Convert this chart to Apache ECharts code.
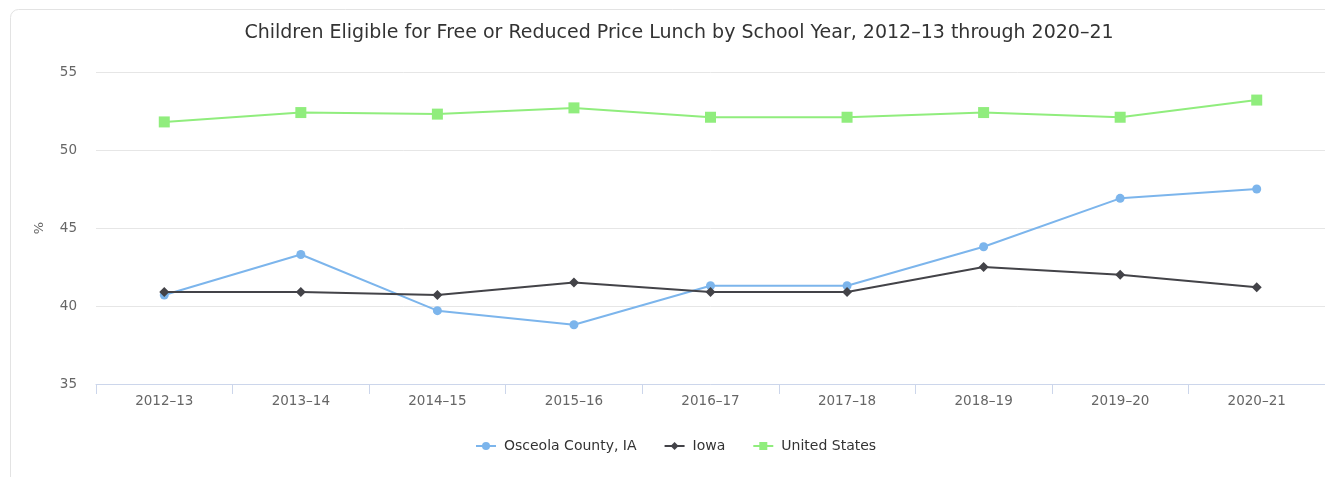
<!DOCTYPE html>
<html>
<head>
<meta charset="utf-8">
<script src="https://cdn.jsdelivr.net/npm/echarts@6/dist/echarts.min.js"></script>
<style>
  html, body { margin: 0; padding: 0; background: #ffffff; }
  #chart { width: 1325px; height: 477px; }
</style>
</head>
<body>
<div id="chart"></div>
<script>
// School years on the category axis
const schoolYears = ['2012–13', '2013–14', '2014–15', '2015–16', '2016–17', '2017–18', '2018–19', '2019–20', '2020–21'];

// Share of children eligible for free or reduced price lunch (%)
const osceolaCounty = [40.7, 43.3, 39.7, 38.8, 41.3, 41.3, 43.8, 46.9, 47.5];
const iowa = [40.9, 40.9, 40.7, 41.5, 40.9, 40.9, 42.5, 42.0, 41.2];
const unitedStates = [51.8, 52.4, 52.3, 52.7, 52.1, 52.1, 52.4, 52.1, 53.2];

const seriesNames = ['Osceola County, IA', 'Iowa', 'United States'];
const yTicks = { min: 35, max: 55, step: 5 };

const FONT = '"DejaVu Sans", sans-serif';

const chart = echarts.init(document.getElementById('chart'), null, { renderer: 'canvas' });

function lineSeries(name, data, color, symbol, size) {
  return {
    name: name,
    type: 'line',
    data: data,
    symbol: symbol,
    symbolSize: size,
    showSymbol: true,
    lineStyle: { color: color, width: 2 },
    itemStyle: { color: color },
    emphasis: { disabled: true },
    animation: false
  };
}

chart.setOption({
  backgroundColor: '#ffffff',
  animation: false,
  graphic: [{
    type: 'rect',
    silent: true,
    z: -1,
    shape: { x: 10.5, y: 9.5, width: 1340, height: 500, r: 8 },
    style: { fill: '#ffffff', stroke: '#e3e3e3', lineWidth: 1 }
  }],
  title: {
    text: 'Children Eligible for Free or Reduced Price Lunch by School Year, 2012–13 through 2020–21',
    left: 674,
    top: 19,
    textAlign: 'center',
    textStyle: { fontFamily: FONT, fontSize: 19, fontWeight: 'normal', color: '#333333' }
  },
  legend: {
    data: seriesNames,
    left: 470,
    top: 434,
    itemWidth: 20,
    itemHeight: 10,
    itemGap: 27,
    textStyle: { fontFamily: FONT, fontSize: 14, color: '#333333', padding: [0, 0, 0, 3] }
  },
  grid: { left: 96, right: 0, top: 72, bottom: 93, containLabel: false },
  xAxis: {
    type: 'category',
    data: schoolYears,
    boundaryGap: true,
    axisLine: { show: true, lineStyle: { color: '#ccd6eb', width: 1 } },
    axisTick: { show: true, interval: 0, length: 10, lineStyle: { color: '#ccd6eb' } },
    axisLabel: { interval: 0, margin: 10, fontFamily: FONT, fontSize: 13.5, color: '#666666' },
    splitLine: { show: false }
  },
  yAxis: {
    type: 'value',
    min: yTicks.min,
    max: yTicks.max,
    interval: yTicks.step,
    name: '%',
    nameLocation: 'middle',
    nameGap: 50,
    nameRotate: 90,
    nameTextStyle: { fontFamily: FONT, fontSize: 13, color: '#666666' },
    axisLine: { show: false },
    axisTick: { show: false },
    axisLabel: { margin: 19, fontFamily: FONT, fontSize: 13.5, color: '#666666' },
    splitLine: { show: true, lineStyle: { color: '#e6e6e6', width: 1 } }
  },
  series: [
    lineSeries(seriesNames[0], osceolaCounty, '#7cb5ec', 'circle', 9),
    lineSeries(seriesNames[1], iowa, '#434348', 'diamond', 10),
    lineSeries(seriesNames[2], unitedStates, '#90ed7d', 'rect', 11)
  ]
});
</script>
</body>
</html>
